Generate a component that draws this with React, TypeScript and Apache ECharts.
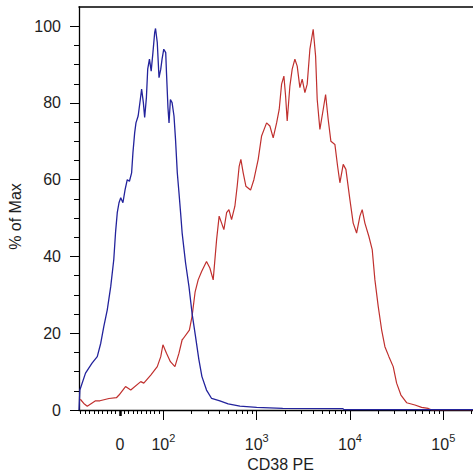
import React, { useEffect, useRef } from "react";
import * as echarts from "echarts";

const FONT = "'Liberation Sans', Arial, Helvetica, sans-serif";
const TEXT = "#1e1e1e";
const BLUE = "#23239c";
const RED = "#c0302e";

// CD38 PE intensity (x) and % of max (y)
const blueX = [-94, -92, -79, -64, -52, -44, -37, -29, -21, -14, -10, -6, -2, 2, 7, 12, 17, 22, 27, 30, 34, 37, 42, 47, 50, 54, 57, 61, 64, 68, 72, 76, 80, 82, 86, 90, 94, 97, 101, 106, 108, 112, 115, 119, 124, 130, 135, 141, 147, 153, 159, 173, 188, 203, 220, 240, 259, 290, 329, 403, 495, 661, 1000, 1900, 8400, 8600, 208000];
const blueY = [0, 5.2, 9.6, 12.2, 13.9, 17.4, 21.7, 26.1, 32.2, 39.2, 46.2, 51.4, 54, 55.3, 54, 57.4, 60, 59.6, 61.8, 67, 72.2, 74.8, 76.6, 80.9, 83.6, 80.1, 76.2, 81.4, 88.8, 91.4, 88.3, 93.1, 98.3, 99.4, 95.7, 86.6, 88.8, 91.4, 94, 93.1, 87.9, 78.8, 74.8, 80.9, 80.1, 76.6, 70.5, 61.8, 56.6, 51.4, 46.1, 38.3, 32.2, 25.2, 19.5, 13.2, 8.7, 5.2, 3.0, 2.4, 1.6, 1.0, 0.7, 0.4, 0.35, 0.1, 0.1];

const redX = [-91, -83, -75, -56, -46, -25, -8, -2, 13, 25, 48, 55, 71, 86, 94, 99, 108, 119, 133, 147, 159, 162, 190, 203, 219, 236, 257, 290, 315, 342, 372, 396, 421, 445, 476, 504, 538, 584, 618, 649, 677, 717, 766, 860, 933, 1038, 1129, 1277, 1385, 1503, 1635, 1743, 1849, 1957, 2041, 2123, 2269, 2402, 2567, 2718, 2904, 3074, 3286, 3478, 3717, 4032, 4280, 4452, 4758, 5162, 5477, 5839, 6242, 6888, 7364, 7794, 8457, 9040, 9975, 10820, 11770, 12770, 13510, 14440, 15940, 17300, 18490, 20060, 21820, 23660, 26120, 29040, 31590, 35130, 40430, 49620, 58550, 68880, 75480, 208000];
const redY = [2.8, 1.7, 1.0, 2.4, 2.4, 3.0, 3.2, 3.9, 6.1, 5.2, 7.4, 7.0, 9.1, 11.3, 13.9, 17.0, 14.8, 12.6, 11.3, 14.8, 18.3, 18.5, 20.8, 24.4, 30.8, 33.9, 36.1, 38.7, 37, 33.9, 44.4, 50.5, 48.7, 47, 51.4, 52.2, 49.6, 53.1, 58.3, 63.5, 65.3, 61.8, 58.3, 57.3, 60, 65.3, 71.4, 74.8, 74, 70.9, 74.8, 78.3, 84.9, 87, 81.8, 75.3, 84.4, 88.8, 91.4, 89.6, 84, 86.2, 82.7, 84.9, 94, 99.2, 92.2, 80.9, 73.1, 78.3, 82.2, 75.7, 70, 69.2, 63.5, 59.2, 64, 62.7, 54.8, 48.7, 46.1, 50.5, 52.2, 48.7, 45.2, 41.8, 33.9, 27, 20.9, 16.5, 13.9, 11.3, 7.0, 3.9, 1.9, 1.3, 0.7, 0.4, 0, 0];

const yMajorTicks = [0, 20, 40, 60, 80, 100];
const yMinorTicks = [5, 10, 15, 25, 30, 35, 45, 50, 55, 65, 70, 75, 85, 90, 95];
const xLabelValues = [0, 100, 1000, 10000, 100000];
const xLabelBase = ["0", "10", "10", "10", "10"];
const xLabelExp = ["", "2", "3", "4", "5"];
const xMajorTicks = [100, 1000, 10000, 100000];
const xZeroTick = [0];
const xMinorTicks = [
  -90, -80, -70, -60, -50, -40, -30, -20, -10,
  10, 20, 30, 40, 50, 60, 70, 80, 90,
  200, 300, 400, 500, 600, 700, 800, 900,
  2000, 3000, 4000, 5000, 6000, 7000, 8000, 9000,
  20000, 30000, 40000, 50000, 60000, 70000, 80000, 90000,
  200000,
];
const xMinValue = -94;
const xMaxValue = 208000;
const yMaxValue = 105;

// biexponential-like display transform: linear within +-100, logarithmic beyond
const LIN = 100;
const LIN_SPAN = 0.466;
function biex(v: number): number {
  const a = Math.abs(v);
  const d = a <= LIN ? (a / LIN) * LIN_SPAN : LIN_SPAN + Math.log10(a / LIN);
  return v < 0 ? -d : d;
}

export default function App() {
  const ref = useRef<HTMLDivElement>(null);
  useEffect(() => {
    if (!ref.current) return;
    const chart = echarts.init(ref.current, undefined, { renderer: "svg" });
    const xmin = biex(xMinValue);
    const xmax = biex(xMaxValue);
    const hidden = { show: false };
    const baseX = {
      type: "value" as const,
      min: xmin,
      max: xmax,
      splitLine: hidden,
    };
    const baseY = {
      type: "value" as const,
      min: 0,
      max: yMaxValue,
      splitLine: hidden,
    };
    chart.setOption({
      animation: false,
      backgroundColor: "#ffffff",
      textStyle: { fontFamily: FONT },
      grid: {
        left: 79,
        right: 0,
        top: 7,
        bottom: 63,
        containLabel: false,
        outerBoundsMode: "none",
      },
      xAxis: [
        {
          ...baseX,
          position: "bottom",
          name: "CD38 PE",
          nameLocation: "middle",
          nameGap: 45,
          nameTextStyle: { fontFamily: FONT, fontSize: 16, color: TEXT, padding: [0, 0, 0, 9] },
          axisLine: { show: true, onZero: false, lineStyle: { color: "#000", width: 1.3 } },
          axisTick: {
            show: true,
            customValues: xMajorTicks.map(biex),
            length: 10,
            lineStyle: { color: "#000", width: 1 },
          },
          axisLabel: {
            show: true,
            customValues: xLabelValues.map(biex),
            margin: 22,
            formatter: (val: number) => {
              const i = xLabelValues.findIndex((v) => Math.abs(biex(v) - val) < 1e-4);
              if (i < 0) return "";
              return xLabelExp[i]
                ? `{b|${xLabelBase[i]}}{s|${xLabelExp[i]}}`
                : `{b|${xLabelBase[i]}}`;
            },
            rich: {
              b: { fontFamily: FONT, fontSize: 16, color: TEXT, lineHeight: 20, verticalAlign: "bottom" },
              s: { fontFamily: FONT, fontSize: 11, color: TEXT, lineHeight: 12, verticalAlign: "top" },
            },
          },
        },
        {
          ...baseX,
          position: "bottom",
          axisLine: { show: false, onZero: false },
          axisTick: {
            show: true,
            customValues: xMinorTicks.map(biex),
            length: 4,
            lineStyle: { color: "#000", width: 1 },
          },
          axisLabel: hidden,
        },
        {
          ...baseX,
          position: "bottom",
          axisLine: { show: false, onZero: false },
          axisTick: {
            show: true,
            customValues: xZeroTick.map(biex),
            length: 6,
            lineStyle: { color: "#000", width: 2.5 },
          },
          axisLabel: hidden,
        },
        {
          ...baseX,
          position: "top",
          axisLine: { show: true, onZero: false, lineStyle: { color: "#000", width: 1.5 } },
          axisTick: hidden,
          axisLabel: hidden,
        },
      ],
      yAxis: [
        {
          ...baseY,
          position: "left",
          name: "% of Max",
          nameLocation: "middle",
          nameGap: 47,
          nameTextStyle: { fontFamily: FONT, fontSize: 16, color: TEXT, padding: [0, 16, 0, 0] },
          axisLine: { show: true, onZero: false, lineStyle: { color: "#000", width: 1.3 } },
          axisTick: {
            show: true,
            customValues: yMajorTicks,
            length: 9,
            lineStyle: { color: "#000", width: 1 },
          },
          axisLabel: {
            show: true,
            customValues: yMajorTicks,
            margin: 18,
            fontFamily: FONT,
            fontSize: 16,
            color: TEXT,
          },
        },
        {
          ...baseY,
          position: "left",
          axisLine: { show: false, onZero: false },
          axisTick: {
            show: true,
            customValues: yMinorTicks,
            length: 5,
            lineStyle: { color: "#000", width: 1 },
          },
          axisLabel: hidden,
        },
      ],
      series: [
        {
          type: "line",
          name: "red",
          xAxisIndex: 0,
          yAxisIndex: 0,
          data: redX.map((v, i) => [biex(v), redY[i]]),
          symbol: "none",
          lineStyle: { color: RED, width: 1.2 },
          z: 2,
        },
        {
          type: "line",
          name: "blue",
          xAxisIndex: 0,
          yAxisIndex: 0,
          data: blueX.map((v, i) => [biex(v), blueY[i]]),
          symbol: "none",
          lineStyle: { color: BLUE, width: 1.3 },
          z: 3,
        },
      ],
    });
    return () => chart.dispose();
  }, []);
  return (
    <div
      ref={ref}
      style={{ position: "fixed", left: 0, top: 0, width: 473, height: 473, background: "#fff" }}
    />
  );
}
